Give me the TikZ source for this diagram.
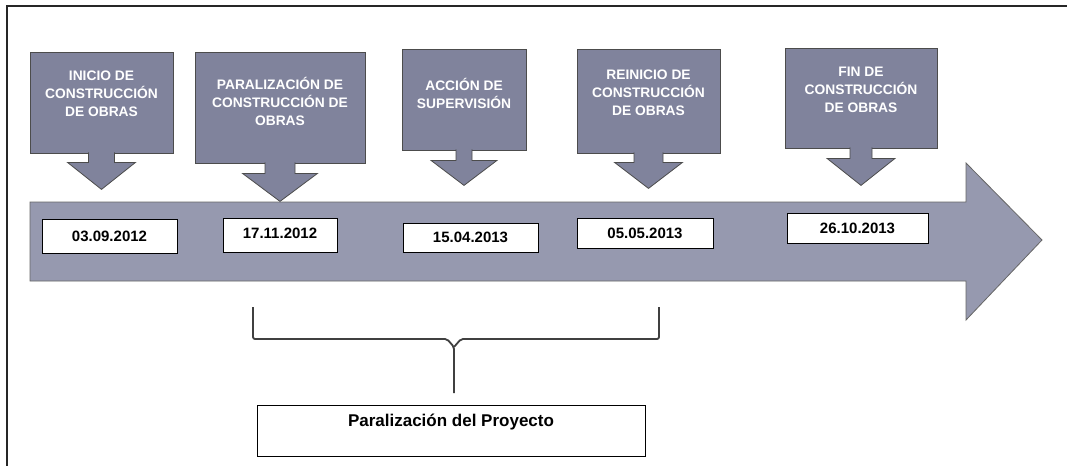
\documentclass[tikz,border=0pt]{standalone}
\usepackage{fontspec}
\setmainfont{Liberation Sans}
\usepackage{tikz}
\usetikzlibrary{arrows.meta}

\definecolor{callgray}{RGB}{128,131,156}
\definecolor{linegray}{RGB}{150,153,175}

\tikzset{
  callbox/.style={draw=black!70, fill=callgray, line width=0.8pt, inner sep=0pt},
  calltext/.style={text=white, font=\bfseries\fontsize{13.8}{18}\selectfont, align=center},
  pointerbox/.style={draw=black!70, fill=callgray, line width=0.8pt},
  datebox/.style={draw=black, fill=white, line width=0.9pt, inner sep=0pt,
    font=\bfseries\fontsize{15}{16}\selectfont},
  bracket/.style={draw=black!75, line width=1.8pt, rounded corners=2pt},
}

% pointer below a callout: node, shaft half width, shaft length, head half width, head length
\newcommand\pointer[5]{%
  \path[pointerbox] (#1.south) ++(-#2,-1) -- ++(0,#3+1) -- ++({#2-#4},0)
    -- ++(#4,#5) -- ++(#4,-#5) -- ++({#2-#4},0) -- ++(0,-#3-1);
}

\begin{document}
\begin{tikzpicture}[x=1pt, y=-1pt]
  \useasboundingbox (0,0) rectangle (1067,466);
  \fill[white] (0,0) rectangle (1067,466);

  % frame
  \draw[black!85, line width=2.4pt] (1067,6) -- (7,6) -- (7,466);

  % timeline
  \filldraw[fill=linegray, draw=black!60, line width=0.8pt]
    (30,202) -- (966,202) -- (966,163) -- (1042,240) -- (966,320)
    -- (966,281) -- (30,281) -- cycle;

  % callouts
  \node[callbox, minimum width=143pt, minimum height=101pt] (inicio) at (101.5,102.5) {};
  \node[callbox, minimum width=170pt, minimum height=111pt] (paral) at (280,107.5) {};
  \node[callbox, minimum width=124pt, minimum height=101pt] (accion) at (464,99.5) {};
  \node[callbox, minimum width=143pt, minimum height=104pt] (reinicio) at (648.5,101) {};
  \node[callbox, minimum width=152pt, minimum height=100pt] (fin) at (861,98) {};

  \pointer{inicio}{13}{9}{34}{27}
  \pointer{paral}{15}{10}{37.5}{28}
  \pointer{accion}{8}{10}{33}{25}
  \pointer{reinicio}{14.5}{9}{34}{26}
  \pointer{fin}{11}{10}{34}{27}

  \node[calltext] (inicio-t) at ([yshift=9pt]inicio.center) {INICIO DE\\CONSTRUCCIÓN\\DE OBRAS};
  \node[calltext] (paral-t) at ([yshift=6.5pt]paral.center) {PARALIZACIÓN DE\\CONSTRUCCIÓN DE\\OBRAS};
  \node[calltext] (accion-t) at ([yshift=6pt]accion.center) {ACCIÓN DE\\SUPERVISIÓN};
  \node[calltext] (reinicio-t) at ([yshift=8pt]reinicio.center) {REINICIO DE\\CONSTRUCCIÓN\\DE OBRAS};
  \node[calltext] (fin-t) at ([yshift=8pt]fin.center) {FIN DE\\CONSTRUCCIÓN\\DE OBRAS};

  % dates
  \node[datebox, minimum width=135pt, minimum height=34pt] (d1) at (109.5,236) {03.09.2012};
  \node[datebox, minimum width=114pt, minimum height=34pt] (d2) at (280,235) {\raisebox{3pt}{17.11.2012}};
  \node[datebox, minimum width=135pt, minimum height=29pt] (d3) at (470.5,237.5) {15.04.2013};
  \node[datebox, minimum width=136pt, minimum height=30pt] (d4) at (645,233) {05.05.2013};
  \node[datebox, minimum width=141pt, minimum height=30pt] (d5) at (857.5,228) {26.10.2013};

  % bracket and project box
  \coordinate (bl) at (253,307);
  \coordinate (br) at (659,307);
  \coordinate (dip) at (454,347);
  \coordinate (tip) at (454,393);
  \draw[bracket] (bl) |- (447,339) -- (dip) -- (tip);
  \draw[bracket] (br) |- (461,339) -- (dip);

  \node[draw=black, line width=0.9pt, minimum width=388pt, minimum height=51pt] (proyecto) at (451,430.5) {};
  \node[font=\bfseries\fontsize{17}{18}\selectfont] (proyecto-t) at ([yshift=8pt]proyecto.center) {Paralización del Proyecto};
\end{tikzpicture}
\end{document}
